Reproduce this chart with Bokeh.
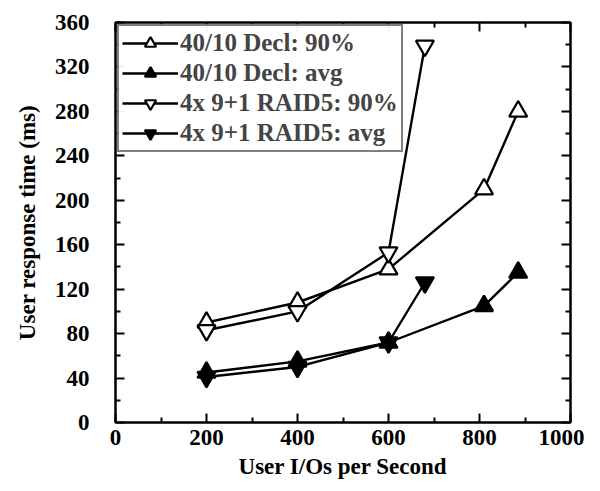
from bokeh.plotting import figure
from bokeh.models import LinearAxis, FixedTicker, Legend, LegendItem, Range1d
from bokeh.embed import file_html
from bokeh.resources import INLINE

# Data
x_decl = [200, 400, 600, 810, 885]
decl_90 = [90, 108, 138, 210, 280]
decl_avg = [45, 55, 72, 105, 135]
x_raid = [200, 400, 600, 680]
raid_90 = [83, 100, 153, 339]
raid_avg = [41, 50, 72, 126]

labels = ["40/10 Decl: 90%", "40/10 Decl: avg", "4x 9+1 RAID5: 90%", "4x 9+1 RAID5: avg"]
x_ticks = [0, 200, 400, 600, 800, 1000]
x_minor = [100, 300, 500, 700, 900]
y_ticks = [0, 40, 80, 120, 160, 200, 240, 280, 320, 360]
y_minor = [20, 60, 100, 140, 180, 220, 260, 300, 340]

FONT = "Liberation Serif"

p = figure(width=584, height=483, x_range=Range1d(0, 1000), y_range=Range1d(0, 360),
           output_backend="svg", toolbar_location=None,
           min_border_left=115, min_border_right=14, min_border_top=22, min_border_bottom=61)
p.grid.visible = False
p.outline_line_color = "black"
p.outline_line_width = 2

series = [
    (x_decl, decl_90, "triangle", "white"),
    (x_decl, decl_avg, "triangle", "black"),
    (x_raid, raid_90, "inverted_triangle", "white"),
    (x_raid, raid_avg, "inverted_triangle", "black"),
]
items = []
for (xs, ys, mk, fill), lab in zip(series, labels):
    r1 = p.line(xs, ys, line_color="black", line_width=2.4)
    r2 = p.scatter(xs, ys, marker=mk, size=18, fill_color=fill, line_color="black", line_width=2.2)
    items.append(LegendItem(label=lab, renderers=[r1, r2]))

def style_axis(ax, ticks, minor, show_labels=True):
    ax.ticker = FixedTicker(ticks=ticks, minor_ticks=minor)
    ax.major_tick_in = 9
    ax.major_tick_out = 0
    ax.minor_tick_in = 5
    ax.minor_tick_out = 0
    ax.major_tick_line_width = 2
    ax.minor_tick_line_width = 2
    ax.axis_line_width = 2
    ax.major_label_text_font = FONT
    ax.major_label_text_font_size = "23px"
    ax.major_label_text_font_style = "bold"
    ax.major_label_text_color = "black" if show_labels else None
    ax.axis_label_text_font = FONT
    ax.axis_label_text_font_size = "23px"
    ax.axis_label_text_font_style = "bold"
    ax.axis_label_text_color = "black"

style_axis(p.xaxis[0], x_ticks, x_minor)
style_axis(p.yaxis[0], y_ticks, y_minor)
p.xaxis[0].axis_label = "User I/Os per Second"
p.yaxis[0].axis_label = "User response time (ms)"
p.xaxis[0].major_label_standoff = 7
p.yaxis[0].major_label_standoff = 26
p.xaxis[0].axis_label_standoff = 6
p.yaxis[0].axis_label_standoff = 12

ra = LinearAxis()
style_axis(ra, y_ticks, y_minor, show_labels=False)
ra.major_label_text_font_size = "0px"
p.add_layout(ra, "right")
ta = LinearAxis()
style_axis(ta, x_ticks, x_minor, show_labels=False)
ta.major_label_text_font_size = "0px"
p.add_layout(ta, "above")

leg = Legend(items=items, location="top_left", margin=2, padding=3, spacing=2,
             label_text_font=FONT, label_text_font_size="25px", label_text_font_style="bold",
             glyph_width=56, glyph_height=28, label_height=28,
             border_line_color="black", border_line_width=2,
             label_standoff=2)
p.add_layout(leg, "center")

open("out.html", "w").write(file_html(p, INLINE))
